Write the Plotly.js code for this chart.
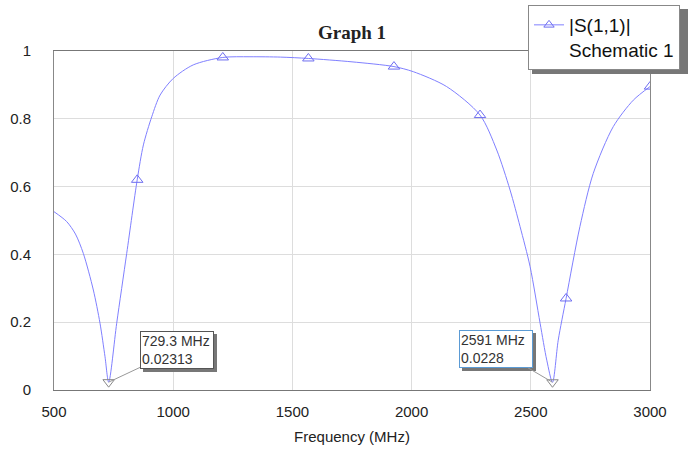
<!DOCTYPE html>
<html>
<head>
<meta charset="utf-8">
<script src="https://cdn.plot.ly/plotly-3.0.1.min.js"></script>
<style>html,body{margin:0;padding:0;background:#fff;}#chart{width:688px;height:450px;}</style>
</head>
<body>
<div id="chart"></div>
<script>
// Curve |S(1,1)|
const freqMHz = [500, 553, 590, 623, 665, 693, 714, 729.3, 763, 805, 849, 875, 910, 945, 1000, 1084, 1208, 1322, 1450, 1567, 1750, 1926, 2007, 2147, 2287, 2357, 2413, 2455, 2497, 2539, 2567, 2591, 2615, 2648, 2706, 2762, 2846, 2930, 3000];
const s11Mag  = [0.526, 0.497, 0.46, 0.403, 0.295, 0.197, 0.098, 0.023, 0.197, 0.403, 0.62, 0.723, 0.806, 0.87, 0.919, 0.959, 0.981, 0.983, 0.982, 0.978, 0.968, 0.954, 0.939, 0.895, 0.811, 0.708, 0.59, 0.482, 0.364, 0.197, 0.088, 0.0228, 0.147, 0.27, 0.482, 0.639, 0.777, 0.855, 0.895];
// Symbol markers along the trace
const symFreq = [849, 1208, 1567, 1926, 2287, 2648, 3000];
const symMag  = [0.62, 0.981, 0.978, 0.954, 0.811, 0.27, 0.895];
// Marker read-outs (minima)
const minFreq = [729.3, 2591];
const minMag  = [0.02313, 0.0228];
const minLabels = ["729.3 MHz<br>0.02313", "2591 MHz<br>0.0228"];
const labelOffsetX = [68, -56];
const labelOffsetY = [-32, -33];
const labelBorder = ["#555555", "#5b9bd5"];
const xTicks = [500, 1000, 1500, 2000, 2500, 3000];
const yTicks = [0, 0.2, 0.4, 0.6, 0.8, 1];

const W = 688, H = 450, ML = 54, MR = 38, MT = 51, MB = 60;
const pw = W - ML - MR, ph = H - MT - MB;
const px2paperX = p => (p - ML) / pw;
const px2paperY = p => (H - MB - p) / ph;

const lineColor = "rgb(128,128,255)";
const traces = [
  {x: freqMHz, y: s11Mag, type: "scatter", mode: "lines", line: {color: lineColor, width: 1, shape: "spline", smoothing: 0.8}, showlegend: false, hoverinfo: "skip"},
  {x: symFreq, y: symMag, type: "scatter", mode: "markers", marker: {symbol: "triangle-up-open", size: 10, color: "rgb(110,110,240)", line: {width: 1}}, showlegend: false},
  {x: minFreq, y: minMag, type: "scatter", mode: "markers", marker: {symbol: "triangle-down-open", size: 10, color: "#888", line: {width: 1}}, showlegend: false},
  {x: [null], y: [null], type: "scatter", mode: "lines+markers", name: "|S(1,1)|<br>Schematic 1",
   line: {color: lineColor, width: 1}, marker: {symbol: "triangle-up-open", size: 9, color: "rgb(110,110,240)"}}
];

const annotations = [];
minFreq.forEach((f, i) => {
  annotations.push({x: f, y: minMag[i], xref: "x", yref: "y", text: " ", width: 70, height: 34, showarrow: true,
    arrowcolor: "rgba(0,0,0,0)", ax: labelOffsetX[i] + 3, ay: labelOffsetY[i] + 3,
    font: {size: 14}, bgcolor: "#777", bordercolor: "#777", borderwidth: 1, borderpad: 1});
  annotations.push({x: f, y: minMag[i], xref: "x", yref: "y", text: minLabels[i], width: 70, height: 34, showarrow: true,
    arrowhead: 0, arrowwidth: 1, arrowcolor: "#999", ax: labelOffsetX[i], ay: labelOffsetY[i], align: "left",
    font: {family: "Arial, Liberation Sans", size: 14, color: "#333"}, bgcolor: "#fff", bordercolor: labelBorder[i], borderwidth: 1, borderpad: 1});
});

const layout = {
  width: W, height: H,
  margin: {l: ML, r: MR, t: MT, b: MB, autoexpand: false},
  paper_bgcolor: "#fff", plot_bgcolor: "#fff",
  font: {family: "Arial, Liberation Sans, sans-serif", color: "#222"},
  title: {text: "<b>Graph 1</b>", font: {family: "Liberation Serif, Times New Roman, serif", size: 19, color: "#222"},
          x: 0.5, xref: "paper", y: 1 - 32 / H, yanchor: "middle"},
  xaxis: {range: [500, 3000], tickvals: xTicks, ticktext: xTicks.map(String), showgrid: true, gridcolor: "#dddddd",
          zeroline: false, showline: true, linecolor: "#777", mirror: true, ticks: "", ticklabelstandoff: 8,
          tickfont: {size: 15, color: "#222"}, automargin: false,
          title: {text: "Frequency (MHz)", font: {size: 15, color: "#222"}, standoff: 12}},
  yaxis: {range: [0, 1], tickvals: yTicks, ticktext: yTicks.map(String), showgrid: true, gridcolor: "#dddddd",
          zeroline: false, showline: true, linecolor: "#888", mirror: true,
          ticks: "outside", ticklen: 19, tickcolor: "rgba(0,0,0,0)",
          tickfont: {size: 15, color: "#222"}, automargin: false},
  showlegend: true,
  legend: {xref: "container", yref: "container", x: 528 / W, y: 1 - 5 / H, xanchor: "left", yanchor: "top",
           bgcolor: "#fff", bordercolor: "#888", borderwidth: 1,
           font: {size: 19, color: "#111"}, valign: "top", itemwidth: 30},
  shapes: [
    {type: "rect", xref: "paper", yref: "paper", x0: px2paperX(532), x1: px2paperX(690), y0: px2paperY(74), y1: px2paperY(9),
     fillcolor: "#777", line: {width: 0}, layer: "above"}
  ],
  annotations: annotations
};

Plotly.newPlot("chart", traces, layout, {displayModeBar: false, staticPlot: true});
</script>
</body>
</html>
